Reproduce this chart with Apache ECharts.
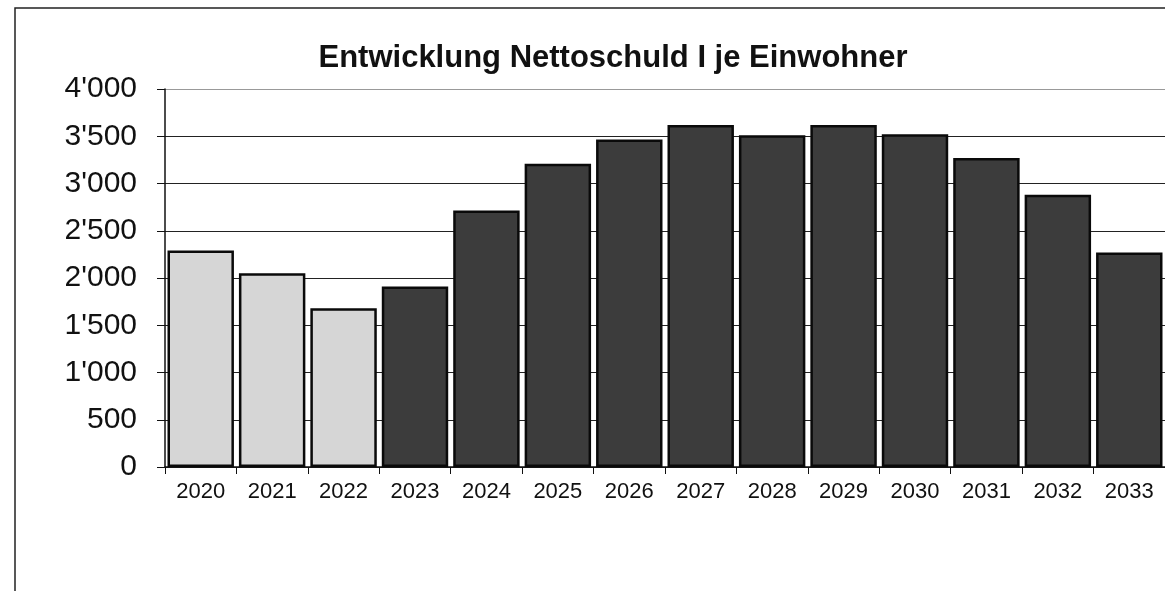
<!DOCTYPE html>
<html><head><meta charset="utf-8">
<script src="https://cdn.jsdelivr.net/npm/echarts@6/dist/echarts.min.js"></script>
<style>html,body{margin:0;padding:0;background:#fff}#c{width:1165px;height:591px}</style>
</head><body><div id="c"></div>
<script>
const titleText = 'Entwicklung Nettoschuld I je Einwohner';
const years = ['2020','2021','2022','2023','2024','2025','2026','2027','2028','2029','2030','2031','2032','2033'];
const values = [2290, 2050, 1680, 1910, 2715, 3210, 3465, 3620, 3510, 3620, 3520, 3270, 2880, 2270];
const actualCount = 3; // first bars are actual (light), rest plan (dark)
const yTicks = [0, 500, 1000, 1500, 2000, 2500, 3000, 3500, 4000];

const chart = echarts.init(document.getElementById('c'));
const fmt = v => String(v).replace(/\B(?=(\d{3})+(?!\d))/g, "'");
chart.setOption({
  animation: false,
  backgroundColor: '#fff',
  title: {
    text: titleText, left: 608, top: 38, textAlign: 'center',
    textStyle: {fontFamily: 'Liberation Sans', fontWeight: 'bold', fontSize: 31, color: '#111'}
  },
  graphic: [{
    type: 'rect', shape: {x: 15, y: 8, width: 1200, height: 700},
    style: {fill: 'none', stroke: '#222', lineWidth: 1.5}, z: -1
  }],
  grid: {left: 165, top: 89, width: 1008, height: 378},
  xAxis: {
    type: 'category', data: years,
    axisLine: {lineStyle: {color: '#111', width: 1.5}},
    axisTick: {show: true, length: 7, lineStyle: {color: '#111'}},
    axisLabel: {fontFamily: 'Liberation Sans', fontSize: 22, color: '#111', margin: 14}
  },
  yAxis: {
    type: 'value', min: yTicks[0], max: yTicks[yTicks.length - 1], interval: yTicks[1] - yTicks[0],
    axisLine: {show: true, lineStyle: {color: '#111', width: 1.5}},
    axisTick: {show: true, length: 8, lineStyle: {color: '#111'}},
    axisLabel: {fontFamily: 'Liberation Sans', fontSize: 30, color: '#111', margin: 28, formatter: fmt},
    splitLine: {show: true, lineStyle: {color: ['#222','#222','#222','#222','#222','#222','#222','#222','#999'], width: 1.2}}
  },
  series: [{
    type: 'bar', data: values, barCategoryGap: '7%',
    itemStyle: {
      color: p => p.dataIndex < actualCount ? '#d6d6d6' : '#3c3c3c',
      borderColor: '#0a0a0a', borderWidth: 2.5
    }
  }]
});
</script></body></html>
